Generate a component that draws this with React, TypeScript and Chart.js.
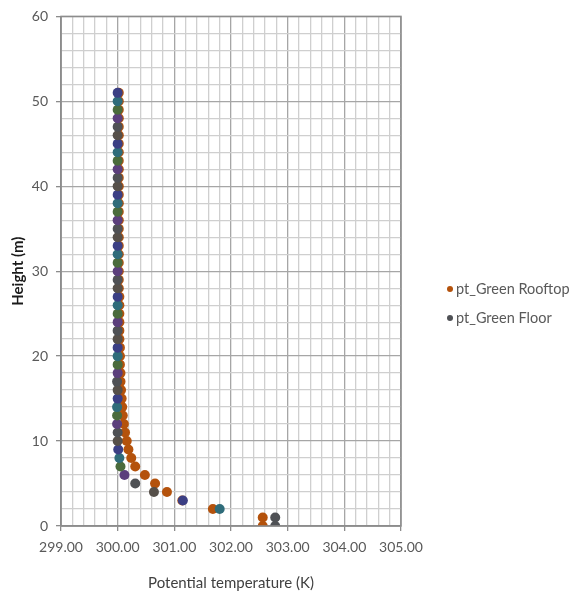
import React, { useEffect, useRef } from "react";
import { Chart, registerables } from "chart.js";

Chart.register(...registerables);

// Heights of the profile levels (m)
const heights: number[] = [
  0, 1, 2, 3, 4, 5, 6, 7, 8, 9, 10, 11, 12, 13, 14, 15, 16, 17, 18, 19, 20, 21, 22, 23, 24, 25,
  26, 27, 28, 29, 30, 31, 32, 33, 34, 35, 36, 37, 38, 39, 40, 41, 42, 43, 44, 45, 46, 47, 48, 49, 50, 51,
];

// Potential temperature (K) above the green rooftop case
const ptGreenRooftop: number[] = [
  302.56, 302.56, 301.68, 301.14, 300.87, 300.66, 300.48, 300.31, 300.24, 300.19, 300.16, 300.13, 300.11,
  300.09, 300.08, 300.07, 300.06, 300.05, 300.05, 300.04, 300.04, 300.04, 300.03, 300.03, 300.03, 300.03,
  300.03, 300.03, 300.02, 300.02, 300.02, 300.02, 300.02, 300.02, 300.02, 300.02, 300.02, 300.02, 300.02,
  300.02, 300.02, 300.02, 300.02, 300.02, 300.02, 300.02, 300.02, 300.02, 300.02, 300.02, 300.02, 300.02,
];

// Potential temperature (K) above the green floor case
const ptGreenFloor: number[] = [
  302.78, 302.78, 301.8, 301.15, 300.64, 300.31, 300.12, 300.05, 300.03, 300.01, 300.0, 300.0, 299.99,
  299.99, 299.99, 300.0, 300.0, 299.99, 300.0, 300.0, 300.0, 300.0, 300.0, 300.0, 300.0, 300.0,
  300.0, 300.0, 300.0, 300.0, 300.0, 300.0, 300.0, 300.0, 300.0, 300.0, 300.0, 300.0, 300.0,
  300.0, 300.0, 300.0, 300.0, 300.0, 300.0, 300.0, 300.0, 300.0, 300.0, 300.0, 300.0, 300.0,
];

const xTickMin = 299;
const xTickMax = 305;
const yTickMin = 0;
const yTickMax = 60;

const ROOFTOP = "#b4520c";
const FLOOR = "#4f5155";
// Floor markers vary colour point by point
const floorPalette = ["#5b3f7c", "#4a6b3c", "#2f6c7a", "#3b3f84", "#56504a", "#4f5155"];

const FONT = "Lato, 'Open Sans', sans-serif";

export default function App() {
  const canvasRef = useRef<HTMLCanvasElement | null>(null);

  useEffect(() => {
    document.body.style.margin = "0";
    const canvas = canvasRef.current;
    if (!canvas) return;

    const floorColors = heights.map((_, i) => (i < 2 ? FLOOR : floorPalette[i % floorPalette.length]));
    const isWhole = (v: number, step: number) => Math.abs(v / step - Math.round(v / step)) < 1e-6;

    const chart = new Chart(canvas, {
      type: "scatter",
      data: {
        datasets: [
          {
            label: "pt_Green Floor",
            data: heights.map((h, i) => ({ x: ptGreenFloor[i], y: h })),
            backgroundColor: floorColors,
            borderColor: floorColors,
            pointRadius: 5,
            pointBorderWidth: 0,
          },
          {
            label: "pt_Green Rooftop",
            data: heights.map((h, i) => ({ x: ptGreenRooftop[i], y: h })),
            backgroundColor: ROOFTOP,
            borderColor: ROOFTOP,
            pointRadius: 5,
            pointBorderWidth: 0,
          },
        ],
      },
      options: {
        animation: false,
        responsive: false,
        layout: { padding: { left: 0, top: 15, right: 174, bottom: 0 } },
        plugins: { legend: { display: false }, tooltip: { enabled: false } },
        scales: {
          x: {
            type: "linear",
            min: xTickMin,
            max: xTickMax,
            afterFit: (s: any) => {
              s.height = 66;
            },
            ticks: {
              stepSize: 0.2,
              autoSkip: false,
              maxRotation: 0,
              padding: 8,
              color: "#595959",
              font: { family: FONT, size: 14 },
              callback: (v: any) => (isWhole(Number(v), 1) ? Number(v).toFixed(2) : ""),
            },
            grid: {
              color: (c: any) => (isWhole(c.tick.value, 1) ? "#a6a6a6" : "#cfcfcf"),
              lineWidth: 1.3,
              tickLength: 5,
              tickColor: (c: any) => (isWhole(c.tick.value, 1) ? "#8c8c8c" : "rgba(0,0,0,0)"),
            },
            border: { color: "#8c8c8c", width: 1.5 },
            title: {
              display: true,
              text: "Potential temperature (K)",
              color: "#404040",
              font: { family: FONT, size: 15 },
              padding: { top: 2, bottom: 0 },
            },
          },
          y: {
            type: "linear",
            min: yTickMin,
            max: yTickMax,
            afterFit: (s: any) => {
              s.width = 61;
            },
            ticks: {
              stepSize: 2,
              autoSkip: false,
              padding: 8,
              color: "#595959",
              font: { family: FONT, size: 14 },
              callback: (v: any) => (isWhole(Number(v), 10) ? String(v) : ""),
            },
            grid: {
              color: (c: any) => (isWhole(c.tick.value, 10) ? "#a6a6a6" : "#cfcfcf"),
              lineWidth: 1.3,
              tickLength: 5,
              tickColor: (c: any) => (isWhole(c.tick.value, 10) ? "#8c8c8c" : "rgba(0,0,0,0)"),
            },
            border: { color: "#8c8c8c", width: 1.5 },
            title: {
              display: true,
              text: "Height (m)",
              color: "#1a1a1a",
              font: { family: FONT, size: 15, weight: "bold" },
              padding: { top: 9, bottom: 0 },
            },
          },
        },
      },
      plugins: [
        {
          id: "plotFrame",
          afterDraw: (c: any) => {
            const { ctx, chartArea } = c;
            ctx.save();
            ctx.strokeStyle = "#8c8c8c";
            ctx.lineWidth = 1.5;
            ctx.strokeRect(chartArea.left, chartArea.top, chartArea.right - chartArea.left, chartArea.bottom - chartArea.top);
            ctx.restore();
          },
        },
      ],
    });

    return () => chart.destroy();
  }, []);

  const legendItem = (color: string, text: string, top: number) => (
    <div
      style={{
        position: "absolute",
        left: 447,
        top,
        display: "flex",
        alignItems: "center",
        fontFamily: FONT,
        fontSize: 14.5,
        color: "#595959",
        whiteSpace: "nowrap",
      }}
    >
      <span
        style={{
          display: "inline-block",
          width: 6,
          height: 6,
          borderRadius: "50%",
          background: color,
          marginRight: 3,
        }}
      />
      {text}
    </div>
  );

  return (
    <div style={{ position: "relative", width: 575, height: 592 }}>
      <canvas ref={canvasRef} width={575} height={592} style={{ display: "block" }} />
      {legendItem(ROOFTOP, "pt_Green Rooftop", 280)}
      {legendItem(FLOOR, "pt_Green Floor", 309)}
    </div>
  );
}
